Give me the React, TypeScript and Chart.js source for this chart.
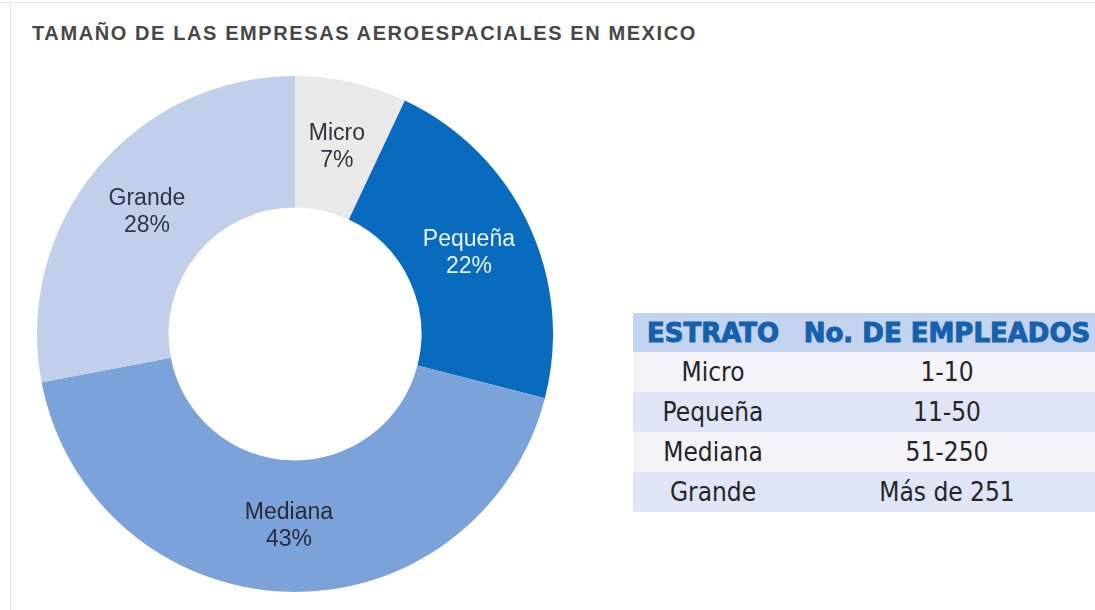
import React, { useEffect, useRef } from "react";
import { Chart, registerables } from "chart.js";

Chart.register(...registerables);

const chartTitle = "TAMAÑO DE LAS EMPRESAS AEROESPACIALES EN MEXICO";
const categories = ["Micro", "Pequeña", "Mediana", "Grande"];
const shares = [7, 22, 43, 28];
const sliceColors = ["#e9e9ea", "#086bbe", "#7ba3d9", "#c2cfeb"];
const labelColors = ["#33333b", "#e9f3ff", "#262c3c", "#30344a"];

const tableHeaders = ["ESTRATO", "No. DE EMPLEADOS"];
const tableStrata = ["Micro", "Pequeña", "Mediana", "Grande"];
const employeeRanges = ["1-10", "11-50", "51-250", "Más de 251"];

const sliceLabelPlugin = {
  id: "sliceLabels",
  afterDatasetsDraw(chart: any) {
    const ctx = chart.ctx;
    const meta = chart.getDatasetMeta(0);
    const data = chart.data.datasets[0].data as number[];
    ctx.save();
    ctx.font = '23px "Liberation Sans", Arial, sans-serif';
    ctx.textAlign = "center";
    ctx.textBaseline = "middle";
    meta.data.forEach((arc: any, i: number) => {
      const p = arc.getCenterPoint();
      ctx.fillStyle = labelColors[i];
      ctx.fillText(String(chart.data.labels[i]), p.x, p.y - 13);
      ctx.fillText(`${data[i]}%`, p.x, p.y + 14);
    });
    ctx.restore();
  },
};

export default function App() {
  const canvasRef = useRef<HTMLCanvasElement | null>(null);

  useEffect(() => {
    if (!canvasRef.current) return;
    const chart = new Chart(canvasRef.current, {
      type: "doughnut",
      data: {
        labels: categories,
        datasets: [
          {
            data: shares,
            backgroundColor: sliceColors,
            borderWidth: 0,
          },
        ],
      },
      options: {
        animation: false,
        responsive: false,
        cutout: "49%",
        layout: { padding: 0 },
        plugins: {
          legend: { display: false },
          tooltip: { enabled: false },
          title: { display: false },
        },
      },
      plugins: [sliceLabelPlugin],
    });
    return () => chart.destroy();
  }, []);

  const cellFont = '"Liberation Sans Narrow", "DejaVu Sans Condensed", Arial, sans-serif';

  return (
    <div
      style={{
        position: "fixed",
        left: 0,
        top: 0,
        width: 1095,
        height: 610,
        overflow: "hidden",
        background: "#ffffff",
      }}
    >
      <div
        style={{
          position: "absolute",
          left: 0,
          top: 2,
          width: 1095,
          height: 1,
          background: "#e6e6e6",
        }}
      />
      <div
        style={{
          position: "absolute",
          left: 10,
          top: 2,
          width: 1,
          height: 608,
          background: "#e8e8e8",
        }}
      />
      <div
        style={{
          position: "absolute",
          left: 32,
          top: 22,
          fontFamily: '"Liberation Sans", Arial, sans-serif',
          fontWeight: 700,
          fontSize: 20,
          letterSpacing: 1.6,
          color: "#474747",
          whiteSpace: "nowrap",
        }}
      >
        {chartTitle}
      </div>
      <canvas
        ref={canvasRef}
        width={516}
        height={516}
        style={{
          position: "absolute",
          left: 37,
          top: 76,
          width: 516,
          height: 516,
        }}
      />
      <table
        style={{
          position: "absolute",
          left: 633,
          top: 313,
          width: 468,
          borderCollapse: "collapse",
          tableLayout: "fixed",
        }}
      >
        <colgroup>
          <col style={{ width: 160 }} />
          <col style={{ width: 308 }} />
        </colgroup>
        <thead>
          <tr style={{ background: "#c4d3ee", height: 39 }}>
            {tableHeaders.map((h) => (
              <th
                key={h}
                style={{
                  padding: 0,
                  textAlign: "center",
                  fontFamily: '"DejaVu Sans", sans-serif',
                  fontWeight: 900,
                  fontSize: 26,
                  color: "#1561ad",
                  WebkitTextStroke: "1px #1561ad",
                  whiteSpace: "nowrap",
                }}
              >
                {h}
              </th>
            ))}
          </tr>
        </thead>
        <tbody>
          {tableStrata.map((s, i) => (
            <tr
              key={s}
              style={{
                background: i % 2 === 0 ? "#f4f4f8" : "#dfe5f4",
                height: 40,
              }}
            >
              <td
                style={{
                  padding: 0,
                  textAlign: "center",
                  fontFamily: cellFont,
                  fontSize: 26,
                  color: "#252528",
                }}
              >
                {s}
              </td>
              <td
                style={{
                  padding: 0,
                  textAlign: "center",
                  fontFamily: cellFont,
                  fontSize: 26,
                  color: "#252528",
                }}
              >
                {employeeRanges[i]}
              </td>
            </tr>
          ))}
        </tbody>
      </table>
    </div>
  );
}
